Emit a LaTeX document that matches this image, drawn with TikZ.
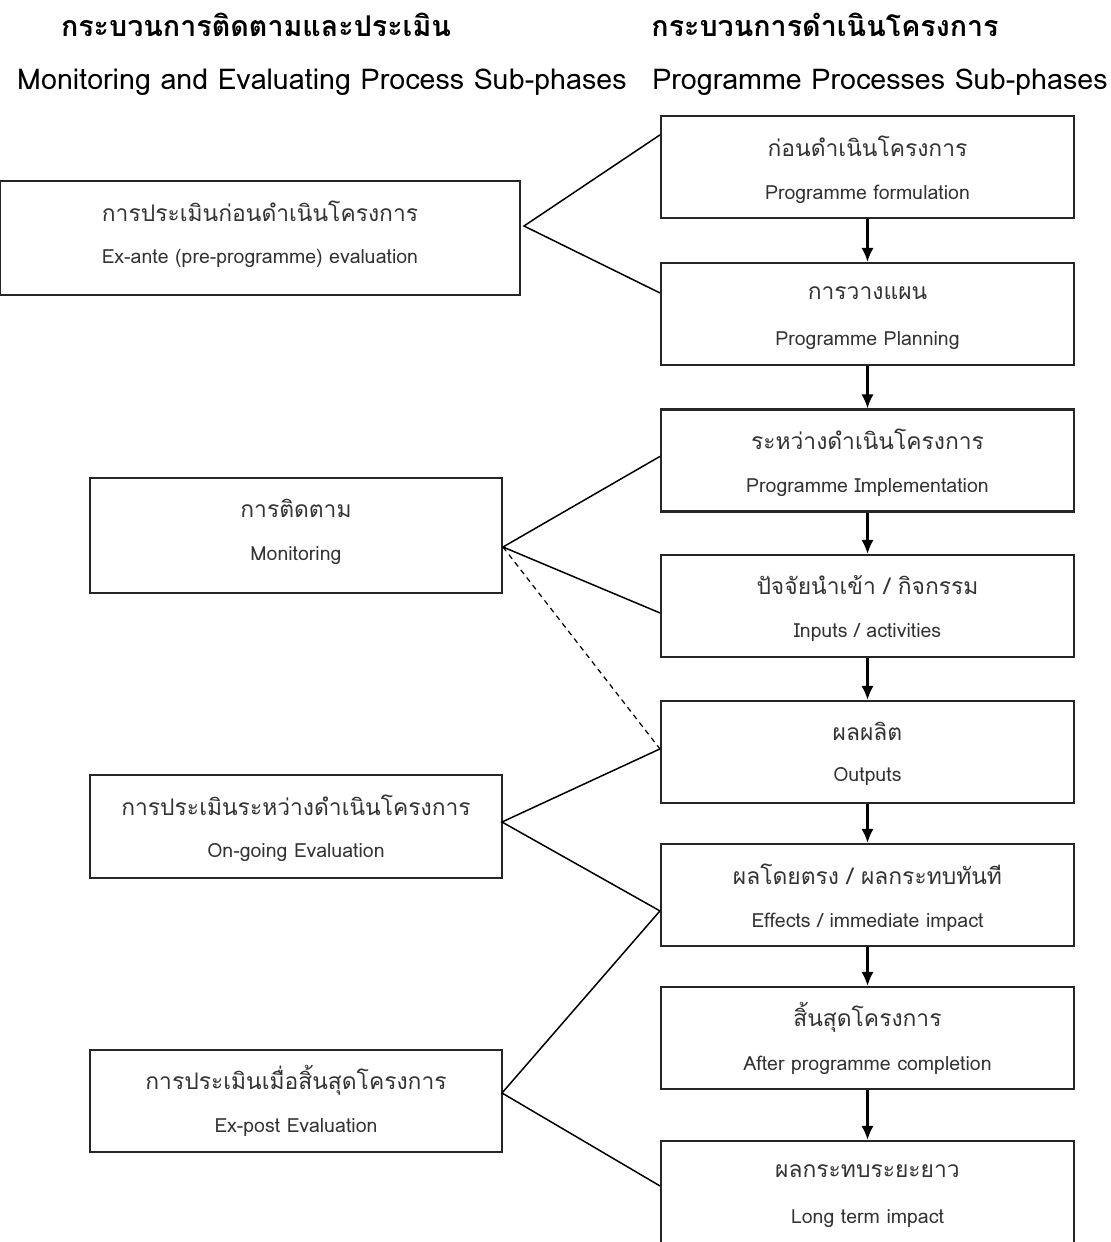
\documentclass[tikz,border=0pt]{standalone}
\usepackage{fontspec}
\setmainfont[Script=Thai]{Loma}
\usetikzlibrary{calc,arrows.meta}
\begin{document}
\begin{tikzpicture}[x=0.02cm,y=-0.02cm,
  rbox/.style={draw=black!85, line width=1.25pt, minimum width=8.26cm, minimum height=2.04cm, inner sep=0pt},
  lbox/.style={draw=black!85, line width=1.25pt, minimum width=8.24cm, inner sep=0pt},
  th/.style={font=\fontsize{13pt}{15pt}\selectfont, text=black!80, inner sep=0pt},
  en/.style={font=\fontsize{11.1pt}{13pt}\selectfont, text=black!80, inner sep=0pt},
  hth/.style={font=\fontsize{16.3pt}{18pt}\selectfont\bfseries, text=black, inner sep=0pt},
  hen/.style={font=\fontsize{16.3pt}{18pt}\selectfont, text=black, inner sep=0pt},
  conn/.style={draw=black, line width=0.85pt},
  dconn/.style={draw=black, line width=0.7pt, dash pattern=on 3pt off 2.5pt},
  arr/.style={draw=black, line width=1.2pt, -{Latex[length=8pt,width=7pt]}}
]
\useasboundingbox (0,0) rectangle (1111,1242);
\fill[white] (0,0) rectangle (1111,1242);

% headers
\node[hth] (h1) at (256,25) {กระบวนการติดตามและประเมิน};
\node[hth] (h2) at (825,25) {กระบวนการดำเนินโครงการ};
\node[hen] (h3) at (322,82) {Monitoring and Evaluating Process Sub-phases};
\node[hen] (h4) at (880,82) {Programme Processes Sub-phases};

% right boxes
\node[rbox] (b1) at (867.5,167) {};
\node[rbox] (b2) at (867.5,314) {};
\node[rbox] (b3) at (867.5,460.5) {};
\node[rbox] (b4) at (867.5,606) {};
\node[rbox] (b5) at (867.5,752) {};
\node[rbox] (b6) at (867.5,895) {};
\node[rbox] (b7) at (867.5,1038) {};
\node[rbox] (b8) at (867.5,1192) {};

\node[th] (b1t) at ($(b1.north)+(0,31)$) {ก่อนดำเนินโครงการ};
\node[en] (b1e) at ($(b1.north)+(0,79)$) {Programme formulation};
\node[th] (b2t) at ($(b2.north)+(0,31)$) {การวางแผน};
\node[en] (b2e) at ($(b2.north)+(0,79)$) {Programme Planning};
\node[th] (b3t) at ($(b3.north)+(0,31)$) {ระหว่างดำเนินโครงการ};
\node[en] (b3e) at ($(b3.north)+(0,79)$) {Programme Implementation};
\node[th] (b4t) at ($(b4.north)+(0,31)$) {ปัจจัยนำเข้า / กิจกรรม};
\node[en] (b4e) at ($(b4.north)+(0,79)$) {Inputs / activities};
\node[th] (b5t) at ($(b5.north)+(0,31)$) {ผลผลิต};
\node[en] (b5e) at ($(b5.north)+(0,77)$) {Outputs};
\node[th] (b6t) at ($(b6.north)+(0,31)$) {ผลโดยตรง / ผลกระทบทันที};
\node[en] (b6e) at ($(b6.north)+(0,79)$) {Effects / immediate impact};
\node[th] (b7t) at ($(b7.north)+(0,31)$) {สิ้นสุดโครงการ};
\node[en] (b7e) at ($(b7.north)+(0,79)$) {After programme completion};
\node[th] (b8t) at ($(b8.north)+(0,31)$) {ผลกระทบระยะยาว};
\node[en] (b8e) at ($(b8.north)+(0,79)$) {Long term impact};

% left boxes
\node[lbox, minimum width=10.4cm, minimum height=2.28cm] (l1) at (260,238) {};
\node[lbox, minimum height=2.3cm] (l2) at (296,535.5) {};
\node[lbox, minimum height=2.06cm] (l3) at (296,826.5) {};
\node[lbox, minimum height=2.04cm] (l4) at (296,1101) {};

\node[th] (l1t) at ($(l1.north)+(0,31)$) {การประเมินก่อนดำเนินโครงการ};
\node[en] (l1e) at ($(l1.north)+(0,79)$) {Ex-ante (pre-programme) evaluation};
\node[th] (l2t) at ($(l2.north)+(0,31)$) {การติดตาม};
\node[en] (l2e) at ($(l2.north)+(0,79)$) {Monitoring};
\node[th] (l3t) at ($(l3.north)+(0,31)$) {การประเมินระหว่างดำเนินโครงการ};
\node[en] (l3e) at ($(l3.north)+(0,79)$) {On-going Evaluation};
\node[th] (l4t) at ($(l4.north)+(0,31)$) {การประเมินเมื่อสิ้นสุดโครงการ};
\node[en] (l4e) at ($(l4.north)+(0,79)$) {Ex-post Evaluation};

% arrows
\draw[arr] (b1) -- (b2);
\draw[arr] (b2) -- (b3);
\draw[arr] (b3) -- (b4);
\draw[arr] (b4) -- (b5);
\draw[arr] (b5) -- (b6);
\draw[arr] (b6) -- (b7);
\draw[arr] (b7) -- (b8);

% connector points
\coordinate (p1) at (524,226);
\coordinate (p2) at (503,547);
\coordinate (p3) at (502,822);
\coordinate (p4) at (502,1093);
\coordinate (t1) at ($(b1.north west)+(0,20)$);
\coordinate (t2) at ($(b2.north west)+(0,31)$);
\coordinate (t3) at ($(b3.north west)+(0,48)$);
\coordinate (t4) at ($(b4.north west)+(0,59)$);
\coordinate (t5) at ($(b5.north west)+(0,49)$);
\coordinate (t6) at ($(b6.north west)+(0,68)$);
\coordinate (t8) at ($(b8.north west)+(0,46)$);

\draw[conn] (t1) -- (p1) -- (t2);
\draw[conn] (t3) -- (p2) -- (t4);
\draw[dconn] (p2) -- (t5);
\draw[conn] (t5) -- (p3) -- (t6);
\draw[conn] (t6) -- (p4) -- (t8);
\end{tikzpicture}
\end{document}
